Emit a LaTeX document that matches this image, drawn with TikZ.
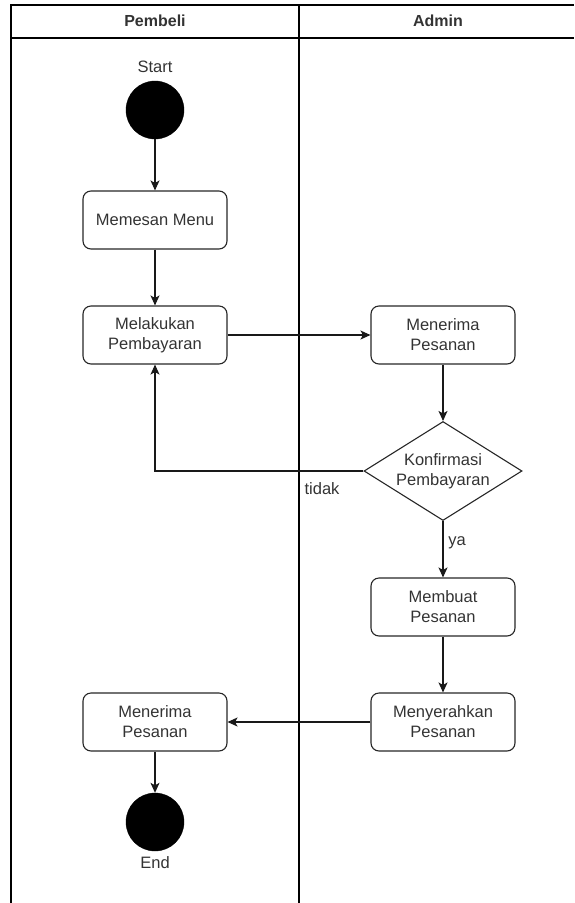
\documentclass[tikz,border=0pt]{standalone}
\usepackage{fontspec}
\setmainfont{Liberation Sans}
\usetikzlibrary{shapes.geometric,arrows.meta}
\definecolor{txt}{HTML}{333333}
\begin{document}
\begin{tikzpicture}[x=1pt,y=-1pt,
  lane/.style={line width=1.4pt, draw=black},
  act/.style={draw=black!85, rounded corners=8pt, minimum width=144pt, minimum height=58pt,
    line width=1.1pt, align=center, inner sep=0pt, font=\fontsize{16.5}{20}\selectfont, text=txt},
  dec/.style={draw=black!85, diamond, minimum width=158pt, minimum height=99pt, inner sep=0pt, line width=1.1pt},
  dectext/.style={align=center, font=\fontsize{16.5}{20}\selectfont, text=txt},
  dot/.style={circle, fill=black, draw=black, minimum size=58pt, inner sep=0pt},
  lbl/.style={font=\fontsize{16.5}{20}\selectfont, text=txt},
  head/.style={font=\bfseries\fontsize{16}{19}\selectfont, text=txt},
  arr/.style={-{Stealth[length=10pt,width=9pt,inset=2.5pt]}, line width=1.1pt, draw=black!90}
]
\useasboundingbox (0,0) rectangle (574,903);
% swimlanes
\draw[lane] (11,903) -- (11,5) -- (574,5);
\draw[lane] (11,38) -- (574,38);
\draw[lane] (299,5) -- (299,903);
\node[head] (h1) at (155,21) {Pembeli};
\node[head] (h2) at (438,21) {Admin};
% nodes
\node[lbl] (startlbl) at (155,67) {Start};
\node[dot] (start) at (155,110) {};
\node[act] (memesan) at (155,220) {Memesan Menu};
\node[act] (bayar) at (155,335) {Melakukan\\Pembayaran};
\node[act] (terima) at (443,335) {Menerima\\Pesanan};
\node[dec] (konf) at (443,471) {};
\node[dectext] (konftext) at (443,471) {Konfirmasi\\Pembayaran};
\node[act] (buat) at (443,607) {Membuat\\Pesanan};
\node[act] (serah) at (443,722) {Menyerahkan\\Pesanan};
\node[act] (terima2) at (155,722) {Menerima\\Pesanan};
\node[dot] (end) at (155,822) {};
\node[lbl] (endlbl) at (155,863) {End};
% edges
\draw[arr] (start) -- (memesan);
\draw[arr] (memesan) -- (bayar);
\draw[arr] (bayar) -- (terima);
\draw[arr] (terima) -- (konf);
\draw[arr] (konf.west) -| (bayar.south);
\node[lbl] (tidak) at (322,489) {tidak};
\draw[arr] (konf) -- (buat);
\node[lbl] (ya) at (457,543) {ya};
\draw[arr] (buat) -- (serah);
\draw[arr] (serah) -- (terima2);
\draw[arr] (terima2) -- (end);
\end{tikzpicture}
\end{document}
